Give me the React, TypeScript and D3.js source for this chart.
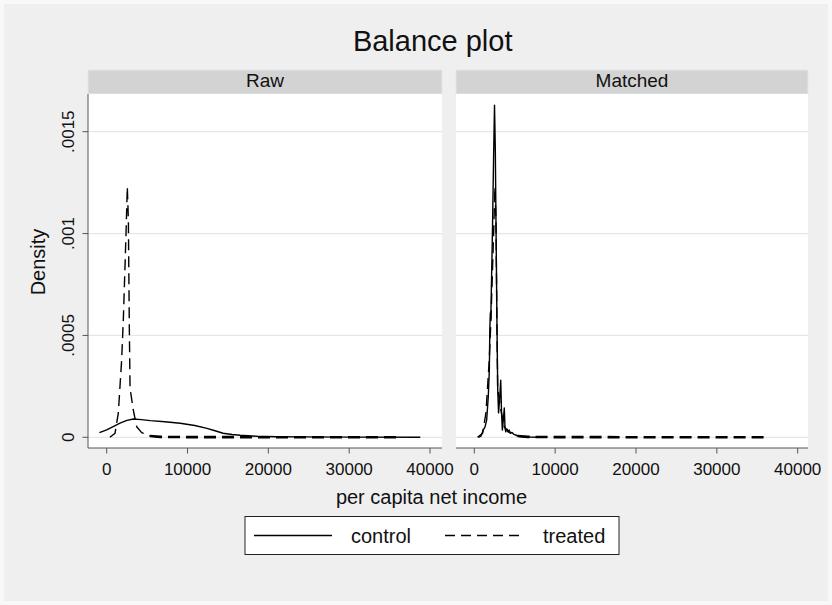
import React from "react";
import * as d3 from "d3";

// Kernel density estimates of per capita net income: [income, density]
const rawControl: [number, number][] = [
  [-900, 2.3e-5], [0, 3.6e-5], [800, 5.2e-5], [1650, 7.0e-5], [2500, 8.3e-5],
  [3300, 9.0e-5], [4300, 8.7e-5], [5400, 8.2e-5], [7200, 7.6e-5], [9100, 6.9e-5],
  [10900, 5.8e-5], [12400, 4.4e-5], [13400, 3.2e-5], [14400, 2.0e-5], [15500, 1.4e-5],
  [16500, 1.0e-5], [18600, 0.5e-5], [21000, 0.3e-5], [24000, 0.2e-5], [30000, 0.1e-5],
  [38800, 0.05e-5],
];

const treated: [number, number][] = [
  [400, 0], [1030, 2e-5], [1440, 1.2e-4], [1850, 3.8e-4], [2060, 5.8e-4],
  [2390, 1.0e-3], [2550, 1.23e-3], [2680, 1.07e-3], [2800, 5.4e-4], [2890, 2.4e-4],
  [3290, 1.34e-4], [3710, 5.2e-5], [4330, 2.3e-5], [5360, 6e-6], [6600, 2e-6],
  [10000, 1e-6], [20000, 0.5e-6], [36300, 0],
];

const matchedControl: [number, number][] = [
  [495, 0], [830, 6e-6], [1110, 3.6e-5], [1320, 5e-5], [1530, 8.5e-5],
  [1660, 1.6e-4], [1730, 2.0e-4], [1860, 3.3e-4], [1920, 5.3e-4], [1980, 6.1e-4],
  [2040, 5.8e-4], [2130, 7.7e-4], [2250, 1.02e-3], [2380, 1.36e-3], [2500, 1.63e-3],
  [2600, 1.41e-3], [2690, 1.02e-3], [2810, 5.3e-4], [2900, 2.3e-4], [3000, 1.2e-4],
  [3120, 1.8e-4], [3270, 2.8e-4], [3370, 1.2e-4], [3470, 3.6e-5], [3590, 8.5e-5],
  [3710, 1.44e-4], [3800, 4.6e-5], [3890, 2.7e-5], [4050, 4e-5], [4170, 2.6e-5],
  [4300, 3.6e-5], [4480, 2.1e-5], [4670, 2.4e-5], [4910, 1.4e-5], [5280, 9e-6],
  [5660, 4e-6], [6900, 1.5e-6], [8000, 0.5e-6],
];

const panelTitles = ["Raw", "Matched"];
const xTicks = [0, 10000, 20000, 30000, 40000];
const yTicks = [0, 0.0005, 0.001, 0.0015];
const yTickLabels = ["0", ".0005", ".001", ".0015"];
const seriesNames = ["control", "treated"];

const FONT = "'Liberation Sans', Arial, Helvetica, sans-serif";
const DASH = "11,6";
const TAIL_START = 5360;

const W = 832;
const H = 605;
const plotTop = 94;
const plotBottom = 448;
const stripTop = 70;

const panels = [
  { title: panelTitles[0], left: 88, right: 442, x0: 106.7, x40: 430, control: rawControl },
  { title: panelTitles[1], left: 456, right: 808, x0: 474.3, x40: 797.7, control: matchedControl },
];

const y = d3.scaleLinear().domain([0, 0.0015]).range([437.3, 131.7]);

export default function App() {
  const treatedHead = treated.filter((d) => d[0] <= TAIL_START);
  const treatedTail = treated.filter((d) => d[0] >= TAIL_START);
  return (
    <svg
      width={W}
      height={H}
      style={{ position: "absolute", left: 0, top: 0 }}
      fontFamily={FONT}
    >
      <rect x={0} y={0} width={W} height={H} fill="#f8f8f8" />
      <rect x={4} y={4} width={W - 8} height={H - 8} fill="#efefef" />

      <text x={432.7} y={50.7} fontSize={29} textAnchor="middle" fill="#111">
        Balance plot
      </text>

      {panels.map((p, i) => {
        const x = d3.scaleLinear().domain([0, 40000]).range([p.x0, p.x40]);
        const line = d3
          .line<[number, number]>()
          .x((d) => x(d[0]))
          .y((d) => y(d[1]))
          .curve(d3.curveLinear);
        return (
          <g key={p.title}>
            {/* strip header */}
            <rect
              x={p.left}
              y={stripTop}
              width={p.right - p.left}
              height={plotTop - stripTop}
              fill="#d3d3d3"
              stroke="#e2e8ec"
              strokeWidth={1}
            />
            <text
              x={(p.left + p.right) / 2}
              y={87.3}
              fontSize={19}
              textAnchor="middle"
              fill="#111"
            >
              {p.title}
            </text>
            {/* plot region */}
            <rect
              x={p.left}
              y={plotTop}
              width={p.right - p.left}
              height={plotBottom - plotTop}
              fill="#ffffff"
            />
            {yTicks.map((t) => (
              <line
                key={t}
                x1={p.left}
                x2={p.right}
                y1={y(t)}
                y2={y(t)}
                stroke="#e6e6e6"
                strokeWidth={1.2}
              />
            ))}
            {/* x axis */}
            <line x1={p.left} x2={p.right} y1={plotBottom} y2={plotBottom} stroke="#555" strokeWidth={1} />
            {xTicks.map((t) => (
              <g key={t}>
                <line x1={x(t)} x2={x(t)} y1={plotBottom} y2={plotBottom + 5.5} stroke="#555" strokeWidth={1} />
                <text x={x(t)} y={475} fontSize={17} textAnchor="middle" fill="#111">
                  {String(t)}
                </text>
              </g>
            ))}
            {/* curves */}
            <path d={line(p.control) ?? ""} fill="none" stroke="#000" strokeWidth={1.4} strokeLinejoin="round" />
            <path
              d={line(treatedHead) ?? ""}
              fill="none"
              stroke="#000"
              strokeWidth={1.4}
              strokeDasharray={DASH}
              strokeLinejoin="round"
            />
            <path
              d={line(treatedTail) ?? ""}
              fill="none"
              stroke="#000"
              strokeWidth={2.6}
              strokeDasharray="12,6"
              strokeLinejoin="round"
            />
            {i === 0 && (
              <g>
                <line x1={p.left} x2={p.left} y1={plotTop} y2={plotBottom} stroke="#555" strokeWidth={1} />
                {yTicks.map((t, k) => (
                  <g key={t}>
                    <line x1={p.left - 5.5} x2={p.left} y1={y(t)} y2={y(t)} stroke="#555" strokeWidth={1} />
                    <text
                      transform={`translate(74,${y(t)}) rotate(-90)`}
                      fontSize={17}
                      textAnchor="middle"
                      fill="#111"
                    >
                      {yTickLabels[k]}
                    </text>
                  </g>
                ))}
              </g>
            )}
          </g>
        );
      })}

      <text
        transform="translate(45,262) rotate(-90)"
        fontSize={20}
        textAnchor="middle"
        fill="#111"
      >
        Density
      </text>
      <text x={431.5} y={504} fontSize={20} textAnchor="middle" fill="#111">
        per capita net income
      </text>

      {/* legend */}
      <rect x={245} y={516.5} width={374} height={38} fill="#fff" stroke="#222" strokeWidth={1} />
      <line x1={254} x2={332} y1={535.5} y2={535.5} stroke="#000" strokeWidth={1.4} />
      <text x={351} y={542.5} fontSize={20} fill="#111">
        {seriesNames[0]}
      </text>
      <line x1={445} x2={524} y1={535.5} y2={535.5} stroke="#000" strokeWidth={1.4} strokeDasharray="10,6" />
      <text x={543} y={542.5} fontSize={20} fill="#111">
        {seriesNames[1]}
      </text>
    </svg>
  );
}
